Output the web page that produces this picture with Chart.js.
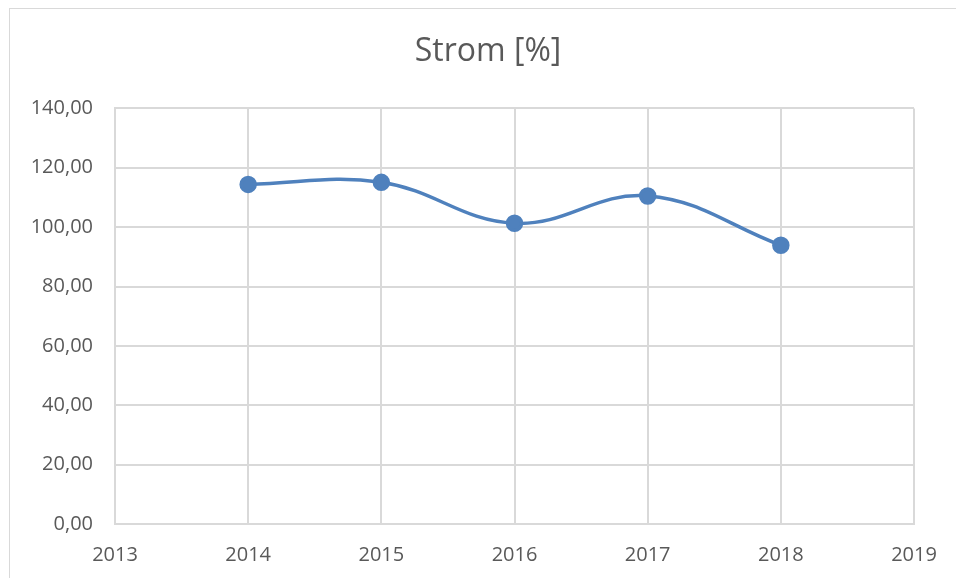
<!DOCTYPE html>
<html>
<head>
<meta charset="utf-8">
<script src="https://cdn.jsdelivr.net/npm/chart.js@4"></script>
<style>
  body { margin: 0; background: #fff; }
  #frame { position: absolute; left: 9px; top: 8px; width: 980px; height: 600px; border: 1px solid #d9d9d9; }
  #myChart { position: absolute; left: 0; top: 0; }
</style>
</head>
<body>
<div id="frame"></div>
<canvas id="myChart" width="956" height="578"></canvas>
<script>
const years = [2014, 2015, 2016, 2017, 2018];
const strom = [114.4, 115.1, 101.3, 110.5, 93.9];
const yTicks = [0, 20, 40, 60, 80, 100, 120, 140];

const ctx = document.getElementById("myChart");
const font = "'Open Sans', sans-serif";
const gridColor = "#d9d9d9";

new Chart(ctx, {
  type: "line",
  data: {
    datasets: [
      {
        label: "Strom [%]",
        data: years.map((y, i) => ({ x: y, y: strom[i] })),
        borderColor: "#4f81bd",
        backgroundColor: "#4f81bd",
        borderWidth: 3.5,
        pointRadius: 7,
        pointHoverRadius: 7,
        tension: 0.4,
        yAxisID: "y",
      },
    ],
  },
  options: {
    responsive: false,
    animation: false,
    // left padding + right spacer axis keep the title centred like the original
    layout: { padding: { left: 20, right: 0, top: 0, bottom: 0 } },
    plugins: {
      legend: { display: false },
      tooltip: { enabled: false },
      title: {
        display: true,
        text: "Strom [%]",
        color: "#595959",
        font: { family: font, size: 32, weight: "normal" },
        padding: { top: 33, bottom: 37 },
      },
    },
    scales: {
      x: {
        type: "linear",
        min: 2013,
        max: 2019,
        grid: { color: gridColor, lineWidth: 2, drawTicks: false },
        border: { color: gridColor, width: 2 },
        ticks: {
          stepSize: 1,
          padding: 19,
          color: "#595959",
          font: { family: font, size: 20 },
          callback: (v) => String(v),
        },
        afterFit: (s) => { s.height = 54; },
      },
      y: {
        min: 0,
        max: 140,
        grid: { color: gridColor, lineWidth: 2, drawTicks: false },
        border: { color: gridColor, width: 2 },
        afterBuildTicks: (s) => { s.ticks = yTicks.map((v) => ({ value: v })); },
        ticks: {
          padding: 22,
          color: "#595959",
          font: { family: font, size: 20 },
          callback: (v) => v.toFixed(2).replace(".", ","),
        },
        afterFit: (s) => { s.width = 95; },
      },
      spacer: {
        type: "linear",
        position: "right",
        min: 0,
        max: 140,
        grid: { display: false, drawTicks: false },
        border: { display: false },
        ticks: { display: false },
        afterFit: (s) => { s.width = 42; },
      },
    },
  },
});
</script>
</body>
</html>
